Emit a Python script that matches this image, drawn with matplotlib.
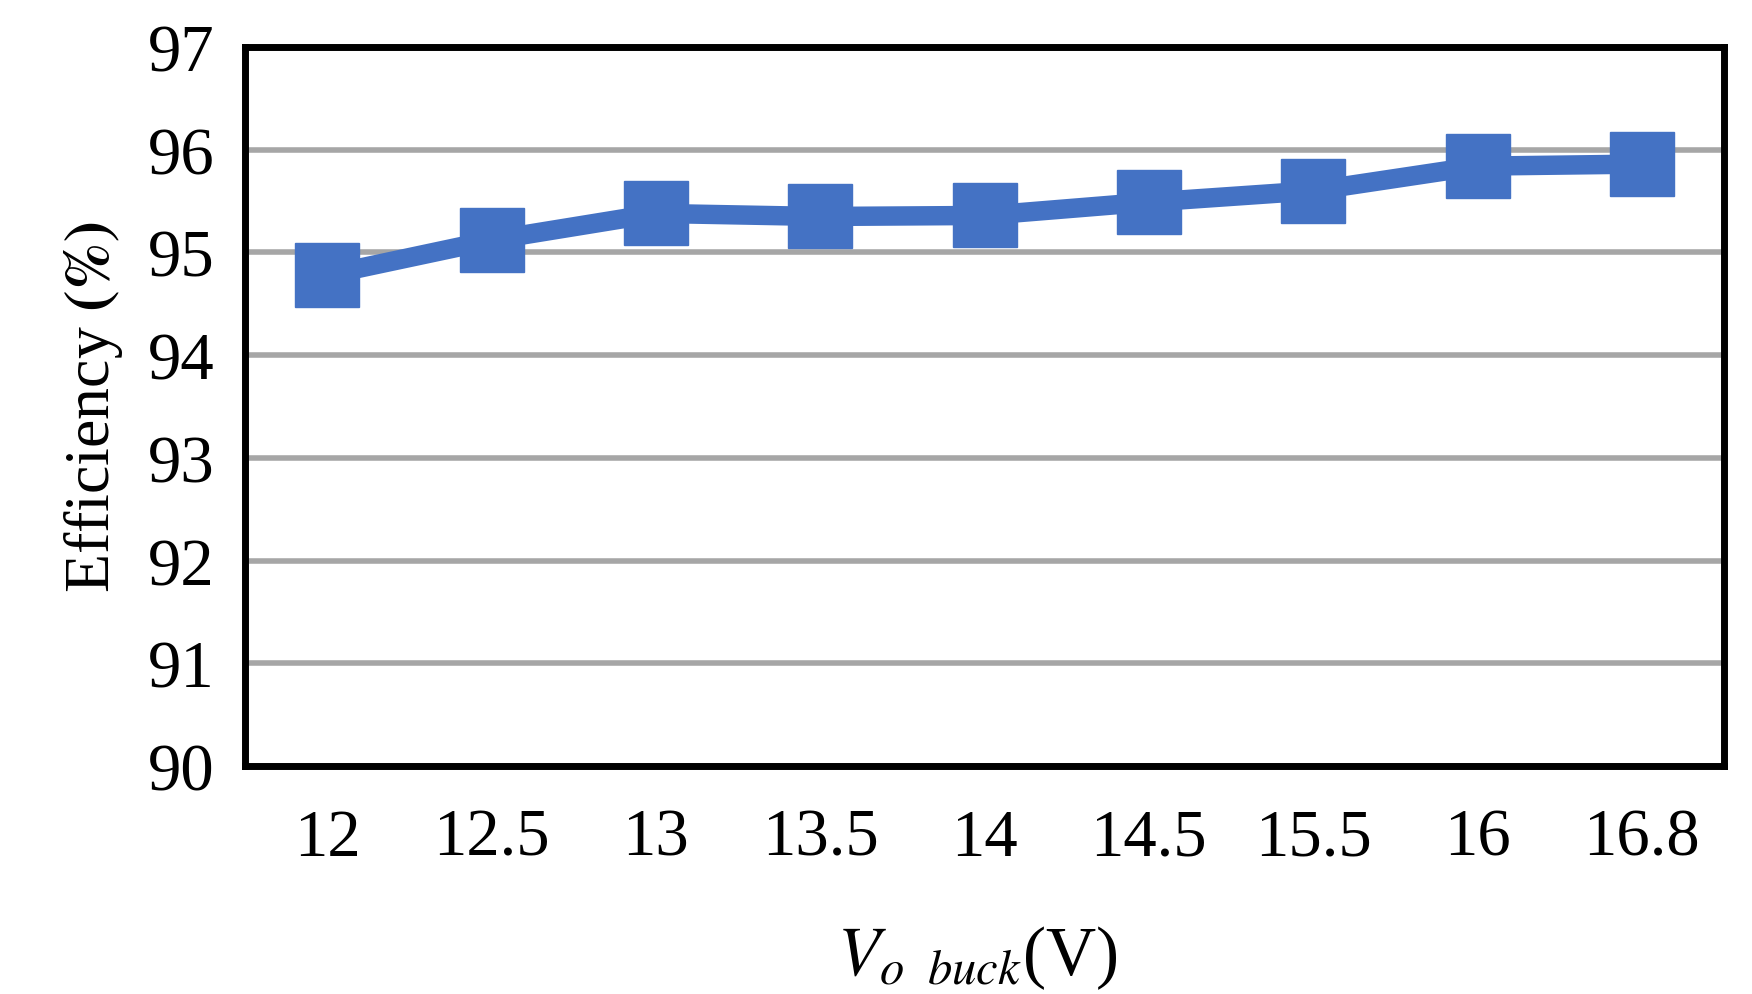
import matplotlib.pyplot as plt

plt.rcParams['font.family'] = 'Liberation Serif'
plt.rcParams['mathtext.fontset'] = 'stix'

categories = ["12", "12.5", "13", "13.5", "14", "14.5", "15.5", "16", "16.8"]
efficiency = [94.78, 95.12, 95.38, 95.35, 95.36, 95.49, 95.6, 95.84, 95.86]

fig = plt.figure(figsize=(17.52, 9.95), dpi=100)
ax = fig.add_axes([245/1752, 1 - 767/995, (1724-245)/1752, (767-48)/995])

x = list(range(len(categories)))
ax.plot(x, efficiency, "-s", color="#4472C4", lw=14, markersize=46, zorder=3)

ax.set_xlim(-0.5, len(categories) - 0.5)
ax.set_ylim(90, 97)
ax.set_yticks(range(90, 98))
ax.set_xticks(x)
ax.set_xticklabels(categories)
ax.tick_params(labelsize=48, length=0)
ax.tick_params(axis='x', pad=30)
ax.tick_params(axis='y', pad=22)
ax.grid(axis='y', color="#A6A6A6", lw=4)
ax.set_axisbelow(True)
for s in ax.spines.values():
    s.set_linewidth(5)

ax.set_ylabel(r"Efficiency $\mathbf{(\%)}$", fontsize=46, labelpad=16)
fig.text(0.558, 0.003, r"$V_{o\ \ buck}$(V)", fontsize=50, ha="center", va="bottom")

plt.savefig("out.png", dpi=100)
